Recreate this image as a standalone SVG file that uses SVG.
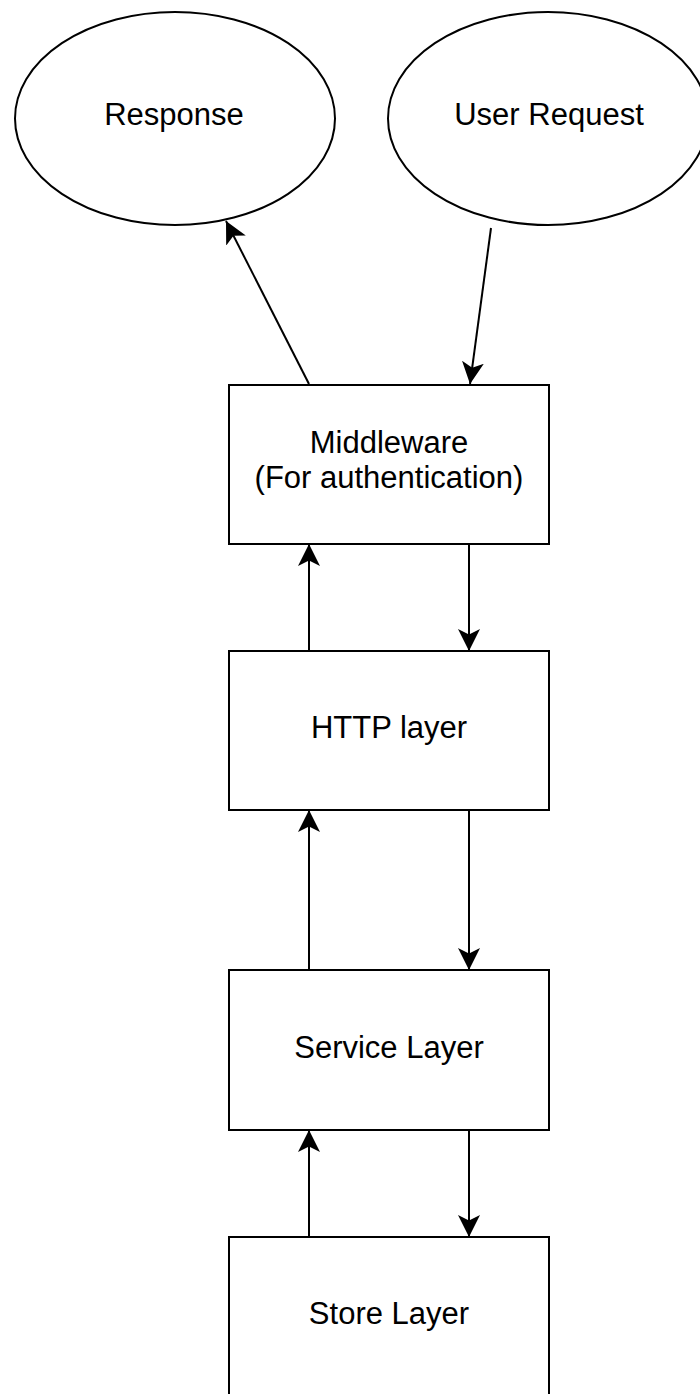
<svg xmlns="http://www.w3.org/2000/svg" width="700" height="1394" viewBox="0 0 700 1394">
<style>
.shape{fill:#fff;stroke:#000;stroke-width:2}
.lbl{font-family:"Liberation Sans",Arial,sans-serif;font-size:31px;fill:#000;text-anchor:middle}
.edge{fill:none;stroke:#000;stroke-width:2}
</style>
<defs>
<marker id="arr" markerUnits="userSpaceOnUse" markerWidth="22" markerHeight="22" viewBox="0 0 20 20" refX="20" refY="10" orient="auto">
<path d="M0,0 L20,10 L0,20 L5,10 z" fill="#000"/>
</marker>
</defs>
<rect width="700" height="1394" fill="#fff"/>
<g id="response">
<ellipse class="shape" cx="175" cy="118.5" rx="160" ry="106.5"/>
<text class="lbl" x="174" y="125">Response</text>
</g>
<g id="user-request">
<ellipse class="shape" cx="548" cy="118.5" rx="160" ry="106.5"/>
<text class="lbl" x="549" y="125">User Request</text>
</g>
<g id="middleware">
<rect class="shape" x="229" y="385" width="320" height="159"/>
<text class="lbl" x="389" y="453">Middleware</text>
<text class="lbl" x="389" y="488">(For authentication)</text>
</g>
<g id="http">
<rect class="shape" x="229" y="651" width="320" height="159"/>
<text class="lbl" x="389" y="738">HTTP layer</text>
</g>
<g id="service">
<rect class="shape" x="229" y="970" width="320" height="160"/>
<text class="lbl" x="389" y="1058">Service Layer</text>
</g>
<g id="store">
<rect class="shape" x="229" y="1237" width="320" height="170"/>
<text class="lbl" x="389" y="1324">Store Layer</text>
</g>
<g id="connectors">
<line class="edge" x1="309" y1="384" x2="226" y2="221" marker-end="url(#arr)"/>
<line class="edge" x1="491" y1="228" x2="470" y2="384" marker-end="url(#arr)"/>
<line class="edge" x1="469" y1="544" x2="469" y2="651" marker-end="url(#arr)"/>
<line class="edge" x1="309" y1="651" x2="309" y2="544" marker-end="url(#arr)"/>
<line class="edge" x1="469" y1="810" x2="469" y2="970" marker-end="url(#arr)"/>
<line class="edge" x1="309" y1="970" x2="309" y2="810" marker-end="url(#arr)"/>
<line class="edge" x1="469" y1="1130" x2="469" y2="1237" marker-end="url(#arr)"/>
<line class="edge" x1="309" y1="1237" x2="309" y2="1130" marker-end="url(#arr)"/>
</g>
</svg>
